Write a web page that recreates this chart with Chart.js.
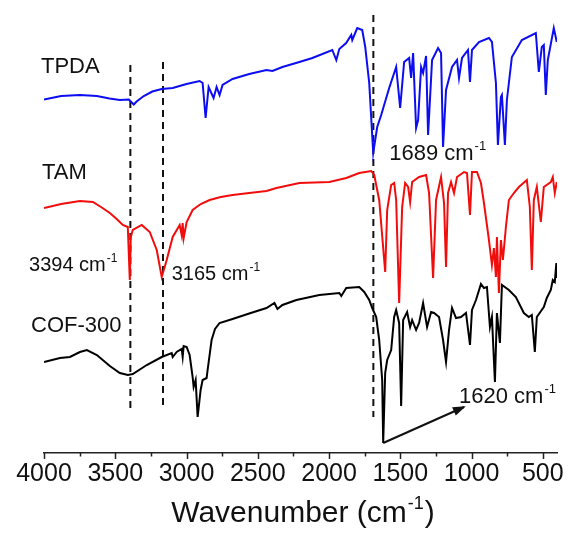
<!DOCTYPE html>
<html>
<head>
<meta charset="utf-8">
<script src="https://cdn.jsdelivr.net/npm/chart.js@4.4.1/dist/chart.umd.min.js"></script>
<style>
  html, body { margin: 0; background: #fff; }
</style>
</head>
<body>
<canvas id="ftir" width="570" height="548"></canvas>
<script>
// FTIR spectra, wavenumber (cm-1) and stacked transmittance (a.u.)
const tpdaWn = [4000, 3880, 3748, 3629, 3540, 3468, 3405, 3370, 3350, 3300, 3240, 3174, 3097, 3000, 2908, 2887, 2866, 2845, 2810, 2789, 2768, 2747, 2677, 2560, 2439, 2397, 2327, 2208, 2117, 1977, 1949, 1928, 1880, 1844, 1837, 1802, 1767, 1746, 1718, 1690, 1662, 1634, 1578, 1529, 1501, 1473, 1438, 1424, 1410, 1389, 1375, 1354, 1340, 1319, 1305, 1277, 1235, 1214, 1200, 1179, 1137, 1102, 1088, 1067, 1025, 1011, 997, 948, 878, 857, 829, 815, 794, 787, 766, 752, 717, 647, 549, 528, 507, 493, 479, 465, 423, 402]
const tpdaT = [70.7, 71.4, 71.6, 71.4, 70.9, 70.6, 70.7, 69.7, 70.3, 71.4, 72.3, 72.8, 73.0, 73.8, 74.4, 74.0, 67.0, 73.2, 71.0, 73.2, 71.6, 73.6, 74.8, 75.8, 76.6, 76.4, 77.2, 78.2, 79.0, 80.6, 78.6, 80.8, 82.0, 83.6, 82.6, 85.0, 84.6, 81.2, 74.0, 60.0, 65.2, 67.6, 73.0, 77.2, 69.0, 78.2, 79.0, 75.0, 80.0, 65.0, 66.6, 77.2, 76.0, 79.4, 63.6, 78.6, 81.0, 80.0, 61.2, 72.6, 77.2, 78.6, 75.0, 79.0, 80.6, 74.2, 80.6, 82.2, 83.0, 82.2, 74.0, 61.6, 71.2, 71.6, 61.6, 70.6, 79.2, 82.6, 84.0, 76.2, 81.2, 81.6, 71.6, 78.6, 85.0, 82.2]

const tamWn = [4000, 3880, 3748, 3657, 3600, 3538, 3490, 3447, 3412, 3398, 3391, 3377, 3314, 3258, 3209, 3174, 3139, 3097, 3048, 3034, 3027, 3020, 2999, 2957, 2900, 2838, 2760, 2677, 2560, 2439, 2369, 2208, 1998, 1879, 1788, 1704, 1683, 1648, 1606, 1592, 1564, 1543, 1529, 1508, 1487, 1466, 1445, 1431, 1417, 1368, 1319, 1298, 1270, 1249, 1214, 1193, 1179, 1165, 1144, 1123, 1102, 1053, 1032, 1011, 997, 962, 934, 913, 878, 857, 843, 829, 822, 808, 794, 780, 759, 738, 703, 668, 612, 591, 577, 563, 542, 514, 493, 444, 430, 416, 402]
const tamT = [49.0, 49.8, 50.4, 50.2, 49.2, 48.0, 46.8, 45.6, 45.2, 34.6, 43.2, 44.6, 45.6, 44.2, 40.6, 35.2, 38.6, 43.2, 45.6, 43.6, 46.0, 43.0, 46.2, 48.6, 49.8, 50.6, 51.2, 51.6, 52.0, 52.4, 53.0, 54.0, 54.2, 55.0, 56.0, 56.4, 55.6, 50.6, 36.2, 48.6, 53.6, 54.0, 50.6, 30.0, 49.2, 54.0, 53.2, 50.2, 54.2, 55.2, 55.6, 52.0, 35.0, 50.6, 55.2, 50.0, 37.2, 52.0, 54.2, 52.0, 55.2, 56.2, 56.0, 47.6, 56.2, 56.2, 54.0, 50.0, 42.6, 37.6, 41.0, 35.2, 43.2, 32.0, 42.6, 38.6, 45.2, 50.6, 52.0, 53.2, 54.6, 49.2, 36.6, 50.6, 53.2, 46.2, 53.2, 54.2, 55.2, 52.0, 54.2]

const cofWn = [4000, 3888, 3818, 3748, 3699, 3629, 3538, 3468, 3412, 3377, 3279, 3174, 3104, 3097, 3069, 3034, 3027, 3020, 2999, 2978, 2957, 2950, 2936, 2922, 2901, 2887, 2859, 2852, 2824, 2800, 2768, 2677, 2560, 2439, 2383, 2362, 2327, 2229, 2068, 1928, 1914, 1879, 1788, 1753, 1718, 1697, 1669, 1648, 1627, 1620, 1606, 1592, 1564, 1543, 1529, 1508, 1494, 1480, 1452, 1431, 1417, 1389, 1368, 1340, 1312, 1284, 1263, 1228, 1200, 1179, 1158, 1137, 1109, 1074, 1039, 1011, 997, 969, 934, 913, 892, 871, 857, 836, 822, 801, 787, 738, 689, 633, 598, 577, 556, 542, 493, 472, 444, 430, 416, 405, 401]
const cofT = [18.2, 19.0, 19.2, 20.2, 20.6, 19.6, 17.4, 16.0, 15.6, 15.8, 17.6, 19.2, 20.0, 19.2, 20.2, 20.8, 19.2, 21.4, 21.2, 19.6, 15.2, 13.2, 14.6, 7.2, 12.6, 14.6, 15.0, 16.6, 22.6, 24.8, 26.0, 26.8, 27.9, 29.0, 30.0, 28.8, 29.6, 30.6, 31.6, 32.0, 31.4, 33.0, 33.2, 32.2, 30.6, 29.0, 27.2, 22.6, 14.6, 2.0, 16.0, 18.6, 20.6, 27.2, 28.6, 26.0, 9.4, 26.6, 28.2, 25.2, 26.6, 24.6, 26.0, 30.0, 25.2, 28.2, 28.0, 27.2, 22.6, 18.2, 24.6, 29.0, 27.0, 27.2, 28.0, 21.6, 28.6, 30.6, 33.8, 33.0, 33.2, 25.2, 27.2, 14.2, 28.0, 22.0, 33.6, 32.6, 31.2, 28.0, 27.2, 27.6, 20.2, 27.2, 29.2, 31.0, 32.6, 34.6, 34.2, 38.0, 35.0]

// marked bands: wavenumber, top and bottom of the dashed guide
const bandWn = [3394, 3165, 1689]
const bandTop = [77.6, 78.2, 87.6]
const bandBottom = [8.6, 9.0, 7.2]

// arrow from the 1620 band to its label
const arrowWn = [1620, 1053]
const arrowT = [2.0, 9.2]

// text labels: [text, superscript, wavenumber, value, font size]
const labels = [
  ['TPDA', '', 4021, 76.0, 22],
  ['TAM', '', 4014, 54.8, 22],
  ['COF-300', '', 4091, 24.2, 22],
  ['3394 cm', '-1', 4105, 36.4, 20],
  ['3165 cm', '-1', 3104, 34.6, 20],
  ['1689 cm', '-1', 1578, 58.6, 22],
  ['1620 cm', '-1', 1088, 10.0, 22]
]

const xTicks = [4000, 3500, 3000, 2500, 2000, 1500, 1000, 500]

const FONT = '"Liberation Sans", Arial, sans-serif'

function pts(xs, ys) {
  return xs.map((x, i) => ({ x, y: ys[i] }))
}

function spectrum(label, xs, ys, color) {
  return {
    label,
    data: pts(xs, ys),
    borderColor: color,
    borderWidth: 2,
    pointRadius: 0,
    tension: 0,
    fill: false
  }
}

const datasets = [
  spectrum('TPDA', tpdaWn, tpdaT, '#0d0df2'),
  spectrum('TAM', tamWn, tamT, '#f20d0d'),
  spectrum('COF-300', cofWn, cofT, '#000000')
]

bandWn.forEach((wn, i) => {
  datasets.push({
    label: 'band ' + wn,
    data: [{ x: wn, y: bandTop[i] }, { x: wn, y: bandBottom[i] }],
    borderColor: '#111',
    borderWidth: 2,
    borderDash: [7, 5],
    pointRadius: 0
  })
})

datasets.push({
  label: 'arrow',
  data: pts(arrowWn, arrowT),
  borderColor: '#111',
  borderWidth: 2,
  pointRadius: 0
})

function textWithSup(ctx, text, sup, x, y, size) {
  ctx.textAlign = 'left'
  ctx.textBaseline = 'alphabetic'
  ctx.font = size + 'px ' + FONT
  const w1 = ctx.measureText(text).width
  ctx.fillText(text, x, y)
  if (sup) {
    ctx.font = Math.round(size * 0.6) + 'px ' + FONT
    ctx.fillText(sup, x + w1 + 1, y - size * 0.45)
  }
}

const decor = {
  id: 'decor',
  afterDraw(chart) {
    const { ctx, scales: { x, y } } = chart
    const base = chart.chartArea.bottom
    ctx.save()
    ctx.strokeStyle = '#222'
    ctx.lineWidth = 1.5
    for (let v = 500; v <= 4000; v += 250) {
      const px = Math.round(x.getPixelForValue(v)) + 0.5
      ctx.beginPath()
      ctx.moveTo(px, base)
      ctx.lineTo(px, base + (v % 500 === 0 ? 6 : 3.5))
      ctx.stroke()
    }

    ctx.fillStyle = '#111'
    labels.forEach(([t, s, wn, val, size]) => {
      textWithSup(ctx, t, s, x.getPixelForValue(wn), y.getPixelForValue(val), size)
    })

    // axis title
    const title = 'Wavenumber (cm'
    ctx.font = '30px ' + FONT
    const w1 = ctx.measureText(title).width
    ctx.font = '18px ' + FONT
    const w2 = ctx.measureText('-1').width
    ctx.font = '30px ' + FONT
    const w3 = ctx.measureText(')').width
    const tx = 302 - (w1 + w2 + w3) / 2
    const ty = 522
    ctx.textBaseline = 'alphabetic'
    ctx.textAlign = 'left'
    ctx.fillText(title, tx, ty)
    ctx.font = '18px ' + FONT
    ctx.fillText('-1', tx + w1 + 1, ty - 13)
    ctx.font = '30px ' + FONT
    ctx.fillText(')', tx + w1 + w2 + 2, ty)

    // arrow head
    const meta = chart.getDatasetMeta(chart.data.datasets.length - 1)
    const p0 = meta.data[0]
    const p1 = meta.data[1]
    const ang = Math.atan2(p1.y - p0.y, p1.x - p0.x)
    const len = 11
    const half = 4.5
    ctx.beginPath()
    ctx.moveTo(p1.x + 2 * Math.cos(ang), p1.y + 2 * Math.sin(ang))
    ctx.lineTo(p1.x - len * Math.cos(ang) - half * Math.sin(ang), p1.y - len * Math.sin(ang) + half * Math.cos(ang))
    ctx.lineTo(p1.x - len * Math.cos(ang) + half * Math.sin(ang), p1.y - len * Math.sin(ang) - half * Math.cos(ang))
    ctx.closePath()
    ctx.fill()
    ctx.restore()
  }
}

new Chart(document.getElementById('ftir'), {
  type: 'line',
  data: { datasets },
  plugins: [decor],
  options: {
    responsive: false,
    animation: false,
    devicePixelRatio: 1,
    layout: { padding: { top: 10, left: 44, right: 12, bottom: 0 } },
    plugins: { legend: { display: false }, tooltip: { enabled: false } },
    scales: {
      x: {
        type: 'linear',
        reverse: true,
        min: 400,
        max: 4000,
        afterFit: scale => { scale.height = 95 },
        afterBuildTicks: scale => { scale.ticks = xTicks.map(v => ({ value: v })) },
        grid: { display: false, drawTicks: false },
        border: { display: true, color: '#222', width: 1.5 },
        ticks: {
          padding: 6,
          maxRotation: 0,
          autoSkip: false,
          color: '#111',
          font: { family: FONT, size: 25 },
          callback: v => String(v)
        }
      },
      y: {
        display: false,
        min: 0,
        max: 88.6
      }
    }
  }
})
</script>
</body>
</html>
